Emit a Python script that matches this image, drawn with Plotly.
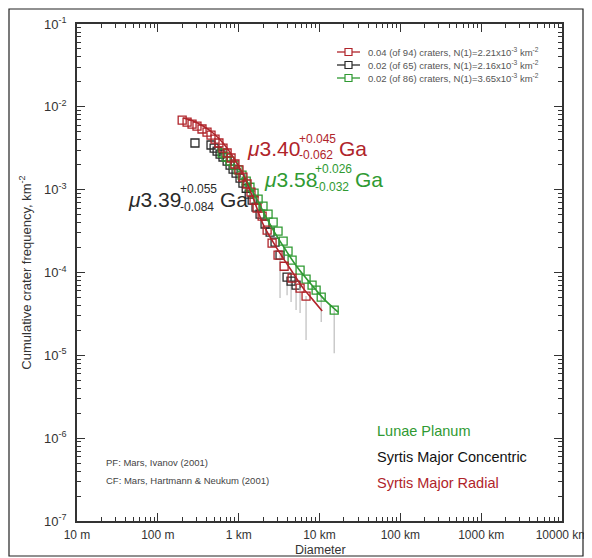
import plotly.graph_objects as go

# ---------------- data ----------------
# Syrtis Major Radial (red)
red_D = [0.20, 0.23, 0.265, 0.305, 0.352, 0.406, 0.455, 0.51, 0.57, 0.64, 0.72, 0.805, 0.90,
         1.01, 1.13, 1.27, 1.42, 1.55, 1.69, 1.95, 2.25, 2.59, 3.07, 3.65, 4.58, 5.75, 6.82]
red_N = [6.93e-3, 6.55e-3, 6.2e-3, 5.86e-3, 5.4e-3, 4.96e-3, 4.56e-3, 4.08e-3, 3.66e-3, 3.18e-3,
         2.77e-3, 2.41e-3, 2.04e-3, 1.73e-3, 1.42e-3, 1.17e-3, 9.35e-4, 7.49e-4, 6.0e-4, 4.8e-4,
         3.25e-4, 2.26e-4, 1.62e-4, 1.19e-4, 8.55e-5, 6.48e-5, 5.19e-5]
red_low = [None] * 24 + [None, 3.24e-5, 1.53e-5]

# Syrtis Major Concentric (black)
blk_D = [0.288, 0.455, 0.497, 0.541, 0.589, 0.64, 0.72, 0.783, 0.853, 0.929, 1.04, 1.13, 1.24,
         1.35, 1.47, 1.64, 1.84, 2.12, 2.45, 2.82, 3.25, 3.97, 4.45, 5.13]
blk_N = [3.66e-3, 3.46e-3, 3.18e-3, 2.92e-3, 2.69e-3, 2.48e-3, 2.21e-3, 1.98e-3, 1.77e-3, 1.58e-3,
         1.38e-3, 1.20e-3, 1.04e-3, 8.85e-4, 7.49e-4, 6.17e-4, 5.07e-4, 3.85e-4, 3.08e-4, 2.33e-4,
         1.62e-4, 8.8e-5, 7.87e-5, 7.05e-5]
blk_low = [None] * 20 + [4.91e-5, 5.33e-5, 4.39e-5, 3.52e-5]

# Lunae Planum (green)
grn_D = [0.624, 0.698, 0.783, 0.877, 0.984, 1.10, 1.24, 1.38, 1.55, 1.74, 2.00, 2.31, 2.67, 3.07,
         3.55, 4.08, 4.58, 5.75, 6.82, 8.09, 9.08, 10.5, 15.2]
grn_N = [2.77e-3, 2.48e-3, 2.21e-3, 1.98e-3, 1.73e-3, 1.50e-3, 1.27e-3, 1.07e-3, 9.1e-4, 7.7e-4,
         6.34e-4, 5.07e-4, 4.06e-4, 3.16e-4, 2.39e-4, 1.81e-4, 1.41e-4, 1.07e-4, 8.32e-5, 7.05e-5,
         6.12e-5, 5.05e-5, 3.52e-5]
grn_low = [None] * 21 + [2.52e-5, 1.06e-5]

# isochron fits
red_fit_D = [0.205, 0.273, 0.362, 0.482, 0.64, 0.853, 1.13, 1.51, 2.00, 2.67, 3.55, 4.71, 6.27, 8.34, 10.8]
red_fit_N = [7.32e-3, 6.74e-3, 5.86e-3, 4.83e-3, 3.66e-3, 2.48e-3, 1.54e-3, 7.92e-4, 3.85e-4,
             2.33e-4, 1.49e-4, 9.84e-5, 6.48e-5, 4.64e-5, 3.42e-5]
grn_fit_D = [1.20, 1.60, 2.12, 2.82, 3.75, 4.99, 6.64, 8.83, 11.7, 17.0]
grn_fit_N = [1.38e-3, 8.37e-4, 4.93e-4, 2.99e-4, 1.92e-4, 1.26e-4, 8.8e-5, 6.31e-5, 4.64e-5, 3.33e-5]

x_tickvals = [0.01, 0.1, 1, 10, 100, 1000, 10000]
x_ticktext = ["10 m", "100 m", "1 km", "10 km", "100 km", "1000 km", "10000 km"]
y_tickvals = [1e-7, 1e-6, 1e-5, 1e-4, 1e-3, 1e-2, 1e-1]
y_ticktext = ["10<sup>-7</sup>", "10<sup>-6</sup>", "10<sup>-5</sup>", "10<sup>-4</sup>",
              "10<sup>-3</sup>", "10<sup>-2</sup>", "10<sup>-1</sup>"]

legend_text = ["0.04 (of 94) craters, N(1)=2.21x10<sup>-3</sup> km<sup>-2</sup>",
               "0.02 (of 65) craters, N(1)=2.16x10<sup>-3</sup> km<sup>-2</sup>",
               "0.02 (of 86) craters, N(1)=3.65x10<sup>-3</sup> km<sup>-2</sup>"]
area_names = ["Lunae Planum", "Syrtis Major Concentric", "Syrtis Major Radial"]
refs = ["PF: Mars, Ivanov (2001)", "CF: Mars, Hartmann & Neukum (2001)"]
x_title = "Diameter"
y_title = "Cumulative crater frequency, km<sup>-2</sup>"

RED = "#b0242a"
BLK = "#2a2a2a"
GRN = "#2f9a32"
ERR = "#bdbdbd"
FONT = "Liberation Sans, Arial, Helvetica, sans-serif"

# ---------------- layout geometry ----------------
# the page body adds an 8px offset
W, H = 584, 550
L, R, T, B = 69, 30, 16, 37
PW, PH = W - L - R, H - T - B
# plot area in page pixels
PX0, PY1 = 77, 521


def px(x):
    return (x - PX0) / PW


def py(y):
    return (PY1 - y) / PH


def minus(vals, lows):
    return [0 if lo is None else v - lo for v, lo in zip(vals, lows)]


fig = go.Figure()


def add_points(D, N, low, color):
    fig.add_trace(go.Scatter(
        x=D, y=N, mode="markers",
        marker=dict(symbol="square-open", size=8, color=color, line=dict(width=1.3, color=color)),
        error_y=dict(type="data", symmetric=False, array=[0] * len(N),
                     arrayminus=minus(N, low), color=ERR, thickness=1.2, width=0),
        showlegend=False, hoverinfo="skip"))


add_points(blk_D, blk_N, blk_low, BLK)
add_points(grn_D, grn_N, grn_low, GRN)
add_points(red_D, red_N, red_low, RED)

fig.add_trace(go.Scatter(x=grn_fit_D, y=grn_fit_N, mode="lines", line=dict(color=GRN, width=1.6, shape="spline"),
                         showlegend=False, hoverinfo="skip"))
fig.add_trace(go.Scatter(x=red_fit_D, y=red_fit_N, mode="lines", line=dict(color=RED, width=1.6, shape="spline"),
                         showlegend=False, hoverinfo="skip"))

minor_vals = [m * 10 ** e for e in range(-2, 4) for m in range(2, 10)]
minor_y = [m * 10 ** e for e in range(-7, -1) for m in range(2, 10)]

axis_common = dict(type="log", showgrid=False, zeroline=False, showline=True, linecolor="#333",
                   linewidth=1.5, mirror="allticks", ticks="inside", ticklen=8, tickwidth=1.2,
                   tickcolor="#333")

fig.update_xaxes(**axis_common, range=[-2, 4], tickmode="array", tickvals=x_tickvals, ticktext=x_ticktext,
                 ticklabelstandoff=2, tickfont=dict(size=12, color="#333", family=FONT),
                 minor=dict(ticks="inside", ticklen=4, tickwidth=1, tickcolor="#333", tickmode="array",
                            tickvals=minor_vals, showgrid=False))
fig.update_yaxes(**axis_common, range=[-7, -1], tickmode="array", tickvals=y_tickvals, ticktext=y_ticktext,
                 ticklabelstandoff=6, tickfont=dict(size=13, color="#333", family=FONT),
                 minor=dict(ticks="inside", ticklen=4, tickwidth=1, tickcolor="#333", tickmode="array",
                            tickvals=minor_y, showgrid=False),
                 title=dict(text=y_title, font=dict(size=13, color="#333", family=FONT), standoff=10))

ann = []


def txt(x, y, s, size, color, anchor="left"):
    ann.append(dict(x=px(x), y=py(y), xref="paper", yref="paper", text=s, showarrow=False,
                    xanchor=anchor, yanchor="middle", font=dict(size=size, color=color, family=FONT)))


# x axis title
txt(320, 550, x_title, 12.5, "#333", anchor="center")

# age labels
txt(245, 148, "<i>μ</i>3.40", 21, RED)
txt(297, 139, "+0.045", 12, RED)
txt(297, 155, "-0.062", 12, RED)
txt(337, 148, "Ga", 21, RED)

txt(262, 179, "<i>μ</i>3.58", 21, GRN)
txt(313, 169, "+0.026", 12, GRN)
txt(313, 187, "-0.032", 12, GRN)
txt(353, 179, "Ga", 21, GRN)

txt(126, 199, "<i>μ</i>3.39", 21, BLK)
txt(178, 189, "+0.055", 12, BLK)
txt(178, 207, "-0.084", 12, BLK)
txt(218, 199, "Ga", 21, BLK)

# legend (manual)
shapes = []
leg_rows = [52, 65, 78]
leg_cols = [RED, BLK, GRN]
for yy, col, s in zip(leg_rows, leg_cols, legend_text):
    shapes.append(dict(type="line", xref="paper", yref="paper", x0=px(337), x1=px(360), y0=py(yy), y1=py(yy),
                       line=dict(color=col, width=1.3)))
    shapes.append(dict(type="rect", xref="paper", yref="paper", x0=px(345), x1=px(352), y0=py(yy + 3.5),
                       y1=py(yy - 3.5), line=dict(color=col, width=1.2), fillcolor="white"))
    txt(366, yy, s, 9.5, "#555")

# area names
txt(375, 431, area_names[0], 14.5, GRN)
txt(375, 457, area_names[1], 14.5, "#111")
txt(375, 483, area_names[2], 14.5, RED)

# references
txt(104, 462, refs[0], 9.5, "#444")
txt(104, 480, refs[1], 9.5, "#444")

# outer frame
shapes.append(dict(type="rect", xref="paper", yref="paper", x0=px(9), x1=px(583), y0=py(556), y1=py(9),
                   line=dict(color="#222", width=1.2), fillcolor="rgba(0,0,0,0)", layer="below"))

fig.update_layout(width=W, height=H, margin=dict(l=L, r=R, t=T, b=B, autoexpand=False),
                  paper_bgcolor="white", plot_bgcolor="white", showlegend=False,
                  annotations=ann, shapes=shapes, font=dict(family=FONT))

fig.write_html("out.html")
